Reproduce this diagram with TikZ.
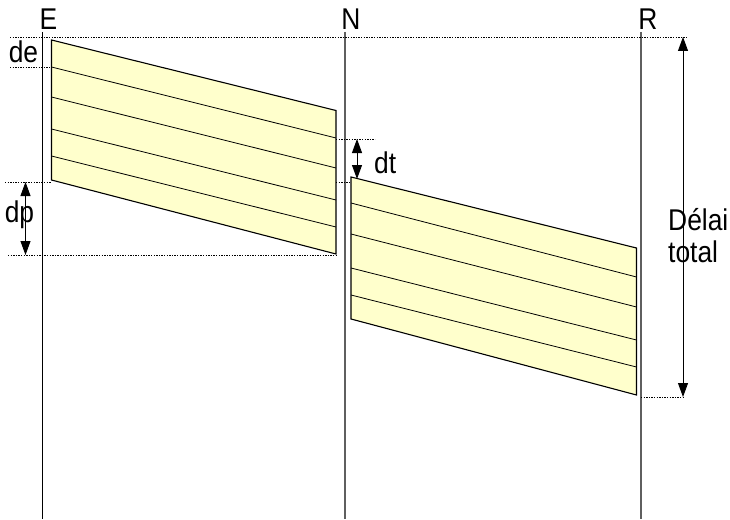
\documentclass[tikz,border=0pt]{standalone}
\usepackage{fontspec}
\setmainfont{Liberation Sans}
\usetikzlibrary{arrows.meta}
\definecolor{pktC}{RGB}{255,255,204}
\definecolor{nodeC}{RGB}{95,95,95}
\newcommand{\etroit}[1]{\scalebox{0.88}[1]{#1}}
\tikzset{
  axe/.style   = {line width=1.1pt, color=#1},
  pkt/.style   = {draw=black, fill=pktC, line width=1.1pt},
  sep/.style   = {line width=0.8pt},
  pointil/.style = {line width=0.8pt, dash pattern=on 1.3pt off 1.3pt},
  cote/.style  = {{Triangle[length=14pt,width=10pt]}-{Triangle[length=14pt,width=10pt]}, line width=0.9pt},
  lbl/.style   = {font=\fontsize{30}{33}\selectfont, inner sep=0pt},
}

\begin{document}
\begin{tikzpicture}[x=1pt, y=-1pt]

\useasboundingbox (0,0) rectangle (730,519);

% ============================================================
%  Time axes of E, N and R
% ============================================================

\draw[axe=black, line width=0.8pt] (42.5,32) -- (42.5,519);
\draw[axe=nodeC] (345,32) -- (345,519);
\draw[axe=nodeC] (641,32) -- (641,519);

\node[lbl] (lE) at (48.5,19) {\etroit{E}};
\node[lbl] (lN) at (351,19) {\etroit{N}};
\node[lbl] (lR) at (648,19) {\etroit{R}};

% ============================================================
%  Packet on the first hop (E -> N)
% ============================================================

\filldraw[pkt] (51.5,40) -- (336,110.5) -- (336,254) -- (51.5,180) -- cycle;
\foreach \l/\r in {67/138, 97/168, 129/200, 156/227}
  \draw[sep] (51.5,\l) -- (336,\r);

% ============================================================
%  Packet on the second hop (N -> R)
% ============================================================

\filldraw[pkt] (351,177) -- (636.5,248) -- (636.5,395) -- (351,319) -- cycle;
\foreach \l/\r in {203/277, 234/307, 268/340, 295/367}
  \draw[sep] (351,\l) -- (636.5,\r);

% --- Dotted reference lines ---
\draw[pointil] (10,37) -- (687,37);
\draw[pointil] (10,67) -- (51.5,67);
\draw[pointil] (5,182) -- (51.5,182);
\draw[pointil] (8,255) -- (336,255);
\draw[pointil] (336,139) -- (375,139);
\draw[pointil] (336,182) -- (351,182);
\draw[pointil] (641,397) -- (683,397);

% --- Dimension arrows ---
\coordinate (dpH) at (25.5,182);
\coordinate (dpB) at (25.5,255);
\coordinate (dtH) at (357,139);
\coordinate (dtB) at (357,179);
\coordinate (totH) at (683,37);
\coordinate (totB) at (683,397);

\draw[cote] (dpH) -- (dpB);
\draw[cote] (dtH) -- (dtB);
\draw[cote] (totH) -- (totB);

% --- Labels ---
\node[lbl] (lde) at (23.5,52) {\etroit{de}};
\node[lbl, anchor=base] (ldp) at (19.5,222) {\etroit{dp}};
\node[lbl, anchor=base west] (ldt) at (374,173) {\etroit{dt}};
\node[lbl, anchor=base west] (ldelai) at (668,230) {\etroit{Délai}};
\node[lbl, anchor=base west] (ltotal) at (668,262) {\etroit{total}};

\end{tikzpicture}
\end{document}
